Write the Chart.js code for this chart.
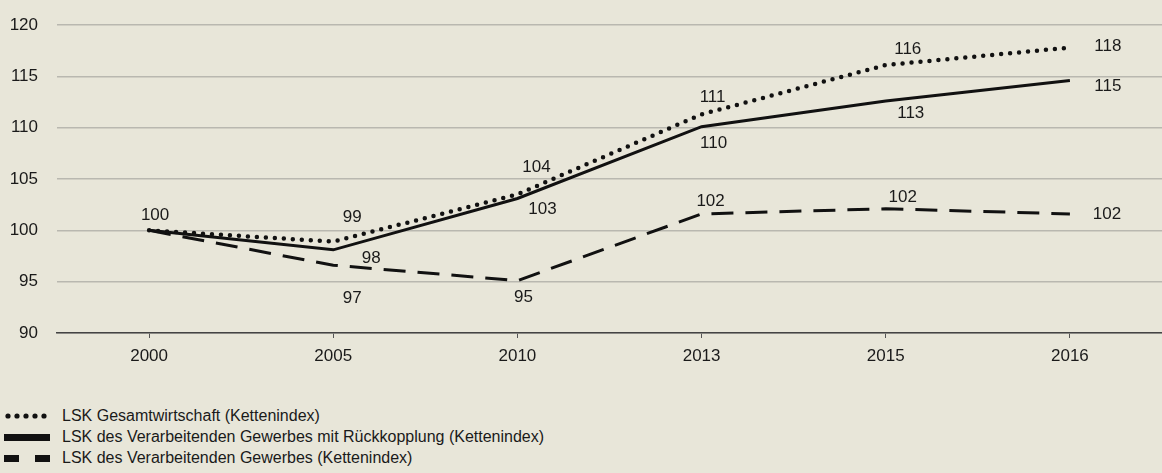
<!DOCTYPE html>
<html lang="de">
<head>
<meta charset="utf-8">
<script src="https://cdn.jsdelivr.net/npm/chart.js@4"></script>
<style>
  html, body { margin: 0; padding: 0; background: #e8e6d9; }
  body { width: 1162px; height: 473px; overflow: hidden; font-family: "Liberation Sans", Arial, sans-serif; color: #1a1a1a; }
  #wrap { position: relative; width: 1162px; height: 372px; }
  #legende { margin-top: 33px; }
  .zeile { height: 21px; line-height: 21px; font-size: 16px; display: flex; align-items: center; }
  .zeile svg { margin-left: 4px; margin-right: 10px; }
</style>
</head>
<body>
<div id="wrap"><canvas id="lskChart"></canvas></div>
<div id="legende">
  <div class="zeile"><svg width="48" height="10"><g fill="#111"><circle cx="4" cy="5" r="2.6"/><circle cx="13" cy="5" r="2.6"/><circle cx="22" cy="5" r="2.6"/><circle cx="31" cy="5" r="2.6"/><circle cx="40" cy="5" r="2.6"/></g></svg>LSK Gesamtwirtschaft (Kettenindex)</div>
  <div class="zeile"><svg width="48" height="10"><rect x="0" y="2" width="46" height="7" fill="#111"/></svg>LSK des Verarbeitenden Gewerbes mit Rückkopplung (Kettenindex)</div>
  <div class="zeile"><svg width="48" height="10"><rect x="0" y="2" width="15" height="7" fill="#111"/><rect x="31" y="2" width="15" height="7" fill="#111"/></svg>LSK des Verarbeitenden Gewerbes (Kettenindex)</div>
</div>
<script>
// Jahre (Kategorien)
const jahre = ['2000', '2005', '2010', '2013', '2015', '2016'];

// Lohnstückkosten, Index 2000 = 100
const gesamtwirtschaft = [100, 98.9, 103.5, 111.3, 116.1, 117.8];
const verarbMitRueck = [100, 98.1, 103.1, 110.1, 112.6, 114.6];
const verarbeitend = [100, 96.6, 95.1, 101.6, 102.1, 101.6];

// Beschriftungen an den Punkten
const beschriftGesamt = ['100', '99', '104', '111', '116', '118'];
const beschriftRueck = ['', '98', '103', '110', '113', '115'];
const beschriftVerarb = ['', '97', '95', '102', '102', '102'];

// Y-Achse
const yMin = 90, yMax = 120, yStep = 5;

// Verschiebung der Beschriftung relativ zum Punkt (dx, dy)
const versatz = [
  [[6, -15], [19, -24], [19, -27], [11, -17], [22, -16], [38, -1]],
  [[0, 0], [38, 8], [25, 11], [12, 17], [25, 12], [38, 6]],
  [[0, 0], [19, 33], [6, 17], [9, -13], [17, -11], [37, 0]]
];

const schrift = '"Liberation Sans", Arial, sans-serif';

// Plugin für Datenbeschriftungen
const werteBeschriftung = {
  id: 'werteBeschriftung',
  afterDatasetsDraw(chart) {
    const ctx = chart.ctx;
    ctx.save();
    ctx.font = '17px ' + schrift;
    ctx.fillStyle = '#1a1a1a';
    ctx.textAlign = 'center';
    ctx.textBaseline = 'middle';
    chart.data.datasets.forEach((ds, i) => {
      const meta = chart.getDatasetMeta(i);
      meta.data.forEach((pt, j) => {
        const txt = ds.beschriftung[j];
        if (!txt) return;
        ctx.fillText(txt, pt.x + versatz[i][j][0], pt.y + versatz[i][j][1]);
      });
    });
    ctx.restore();
  }
};

document.addEventListener('DOMContentLoaded', function () {
  const ctx = document.getElementById('lskChart').getContext('2d');
  new Chart(ctx, {
    type: 'line',
    data: {
      labels: jahre,
      datasets: [
        {
          label: 'LSK Gesamtwirtschaft (Kettenindex)',
          data: gesamtwirtschaft,
          beschriftung: beschriftGesamt,
          borderColor: '#111',
          borderWidth: 4.5,
          borderDash: [0, 9],
          borderCapStyle: 'round',
          pointRadius: 0,
          tension: 0
        },
        {
          label: 'LSK des Verarbeitenden Gewerbes mit Rückkopplung (Kettenindex)',
          data: verarbMitRueck,
          beschriftung: beschriftRueck,
          borderColor: '#111',
          borderWidth: 3,
          pointRadius: 0,
          tension: 0
        },
        {
          label: 'LSK des Verarbeitenden Gewerbes (Kettenindex)',
          data: verarbeitend,
          beschriftung: beschriftVerarb,
          borderColor: '#111',
          borderWidth: 3,
          borderDash: [22, 12],
          pointRadius: 0,
          tension: 0
        }
      ]
    },
    options: {
      responsive: true,
      maintainAspectRatio: false,
      animation: false,
      layout: { padding: { top: 25, right: 0, left: 0, bottom: 0 } },
      plugins: {
        legend: { display: false },
        tooltip: { enabled: false }
      },
      scales: {
        x: {
          offset: true,
          afterFit: (s) => { s.height = 39; s.paddingLeft = 0; s.paddingRight = 0; },
          grid: { offset: false, drawOnChartArea: false, drawTicks: true, tickLength: 5, color: '#555' },
          border: { display: true, color: '#444', width: 1.5 },
          ticks: { color: '#1a1a1a', font: { family: schrift, size: 17 }, padding: 8 }
        },
        y: {
          min: yMin,
          max: yMax,
          afterFit: (s) => { s.width = 57; s.paddingTop = 0; s.paddingBottom = 0; },
          grid: { color: '#b9b8b0', lineWidth: 1.5, drawTicks: false },
          border: { display: false },
          ticks: { stepSize: yStep, color: '#1a1a1a', font: { family: schrift, size: 17 }, padding: 19 }
        }
      }
    },
    plugins: [werteBeschriftung]
  });
});
</script>
</body>
</html>
